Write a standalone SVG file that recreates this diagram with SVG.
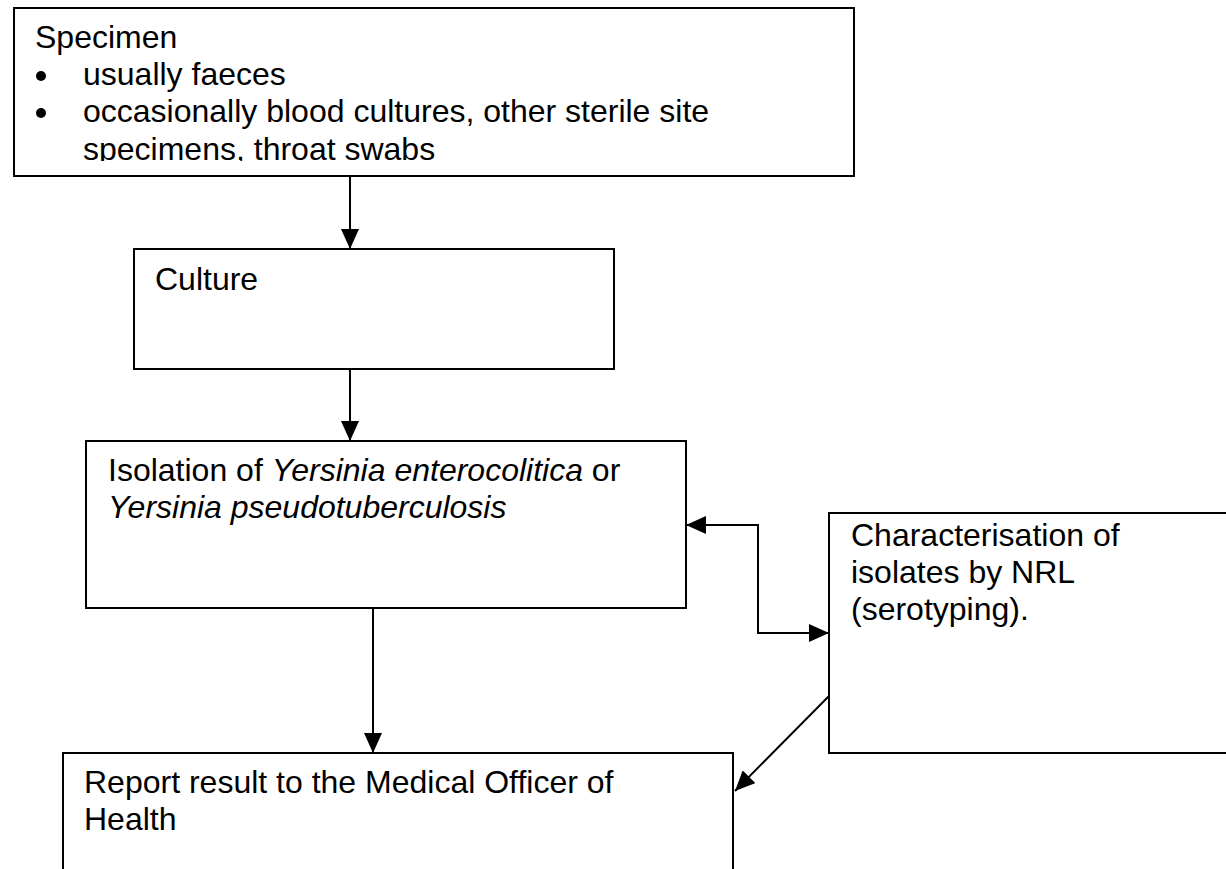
<svg xmlns="http://www.w3.org/2000/svg" width="1226" height="869" viewBox="0 0 1226 869">
<style>
  .box { fill: #ffffff; stroke: #000000; stroke-width: 2; }
  .t { font-family: "Liberation Sans", Arial, sans-serif; font-size: 32px; fill: #000000; }
  .i { font-style: italic; }
  .conn { fill: none; stroke: #000000; stroke-width: 2; }
</style>
<defs>
  <marker id="arrow" viewBox="0 0 20 18" refX="20" refY="9" markerWidth="20" markerHeight="18" markerUnits="userSpaceOnUse" orient="auto-start-reverse">
    <path d="M0,0 L20,9 L0,18 Z" fill="#000000"/>
  </marker>
  <clipPath id="specClip"><rect x="14" y="8" width="840" height="153"/></clipPath>
</defs>
<rect width="1226" height="869" fill="#ffffff"/>

<g id="specimen">
  <rect class="box" x="14" y="8" width="840" height="168"/>
  <g clip-path="url(#specClip)">
    <text class="t" x="35" y="48">Specimen</text>
    <circle cx="41" cy="76" r="5" fill="#000000"/>
    <text class="t" x="83" y="85">usually faeces</text>
    <circle cx="41" cy="113" r="5" fill="#000000"/>
    <text class="t" x="83" y="122">occasionally blood cultures, other sterile site</text>
    <text class="t" x="83" y="160">specimens, throat swabs</text>
  </g>
</g>

<g id="culture">
  <rect class="box" x="134" y="249" width="480" height="120"/>
  <text class="t" x="155" y="290">Culture</text>
</g>

<g id="isolation">
  <rect class="box" x="86" y="441" width="600" height="167"/>
  <text class="t" x="108" y="481">Isolation of <tspan class="i">Yersinia enterocolitica</tspan> or</text>
  <text class="t i" x="108" y="518">Yersinia pseudotuberculosis</text>
</g>

<g id="characterisation">
  <rect class="box" x="829" y="513" width="420" height="240"/>
  <text class="t" x="851" y="546">Characterisation of</text>
  <text class="t" x="851" y="583">isolates by NRL</text>
  <text class="t" x="851" y="620">(serotyping).</text>
</g>

<g id="report">
  <rect class="box" x="63" y="753" width="670" height="140"/>
  <text class="t" x="84" y="793">Report result to the Medical Officer of</text>
  <text class="t" x="84" y="830">Health</text>
</g>

<g id="connectors">
  <line class="conn" x1="350" y1="176" x2="350" y2="249" marker-end="url(#arrow)"/>
  <line class="conn" x1="350" y1="369" x2="350" y2="441" marker-end="url(#arrow)"/>
  <line class="conn" x1="373" y1="608" x2="373" y2="753" marker-end="url(#arrow)"/>
  <polyline class="conn" points="686,525 758,525 758,633 829,633" marker-start="url(#arrow)" marker-end="url(#arrow)"/>
  <line class="conn" x1="829" y1="696" x2="735" y2="791" marker-end="url(#arrow)"/>
</g>
</svg>
